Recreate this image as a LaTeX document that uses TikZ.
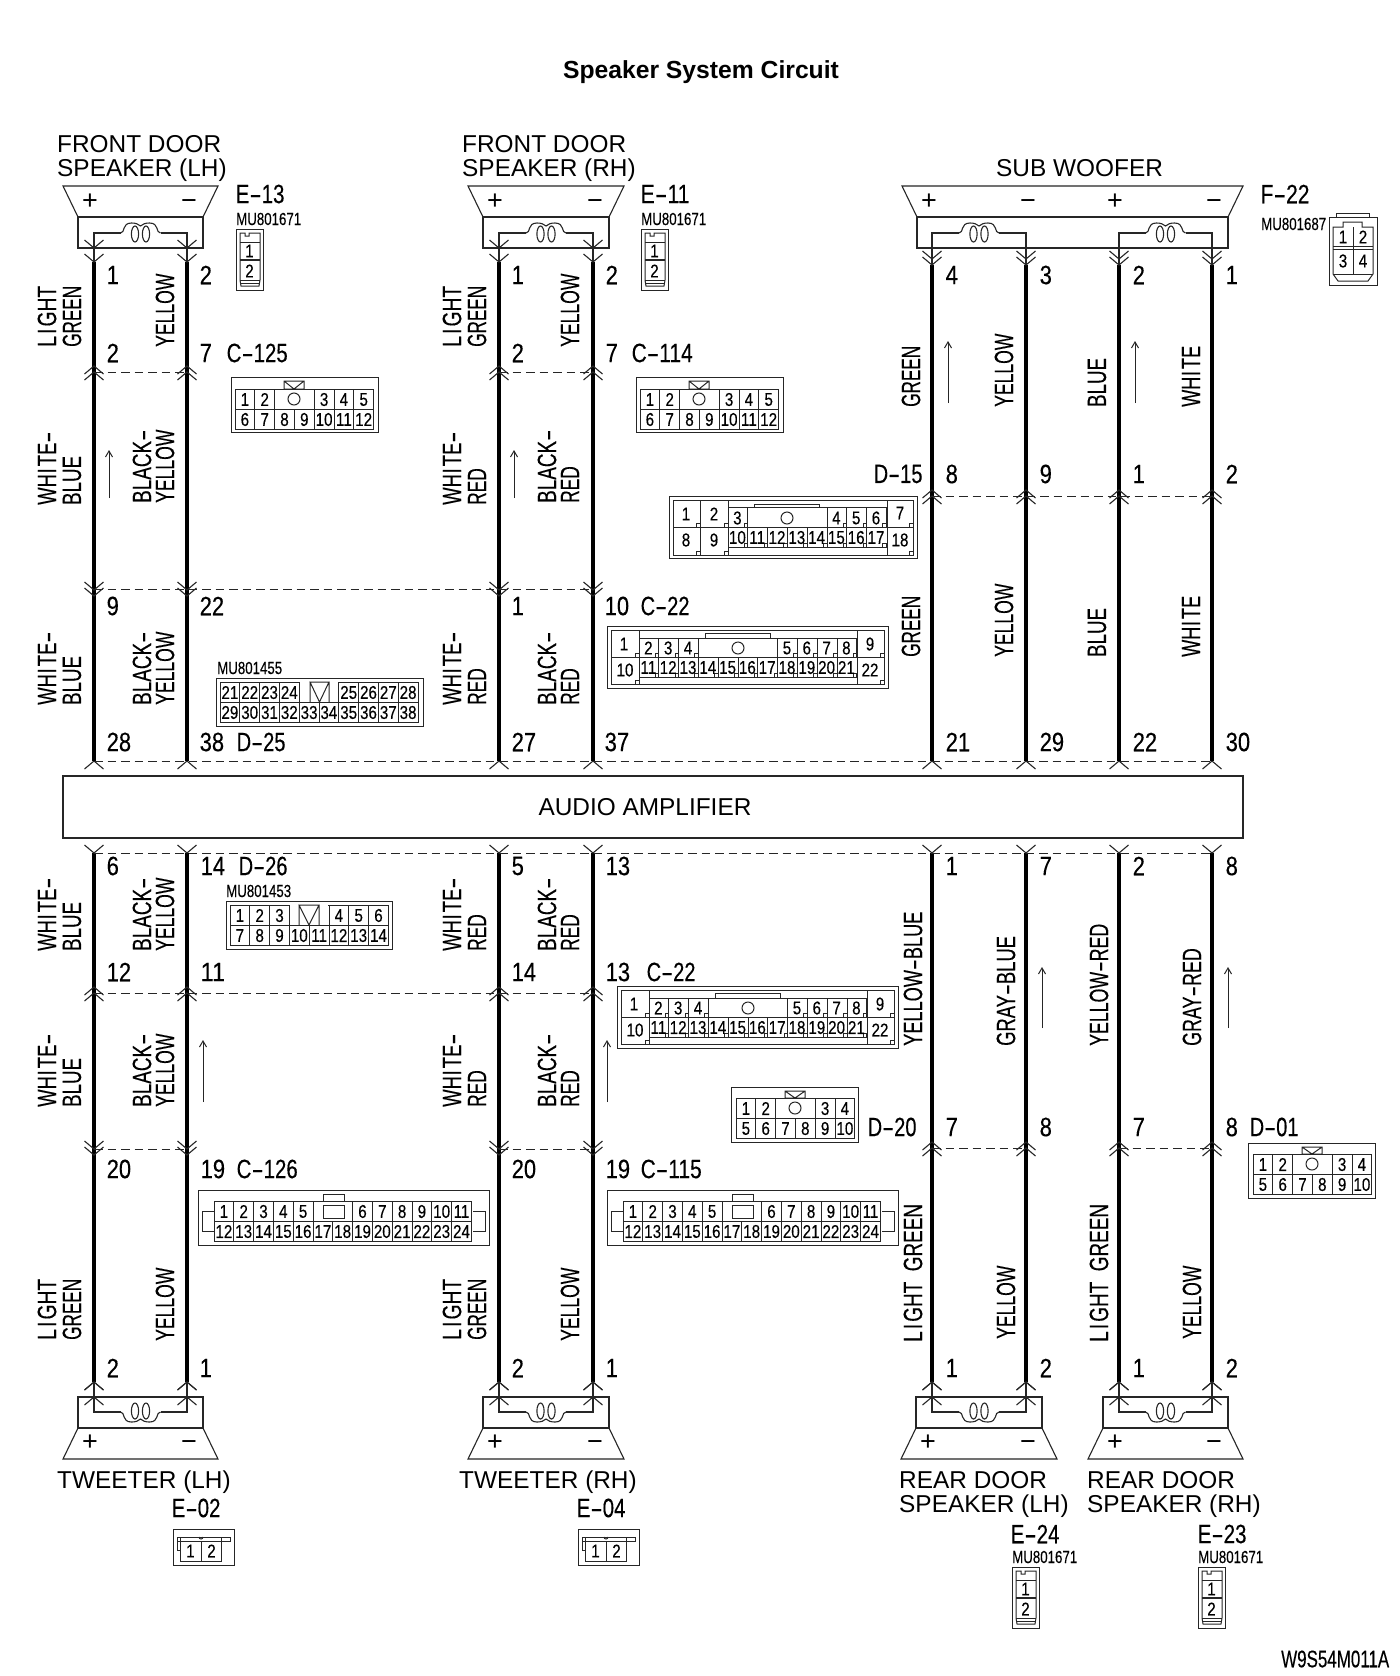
\documentclass[tikz,border=0pt]{standalone}
\usepackage{fontspec}
\usepackage{graphicx}
\setmainfont{Liberation Sans}
\newfontfamily\lf[FakeBold=.3]{Liberation Sans}
\definecolor{ink}{gray}{0.15}
\newcount\nid
\newdimen\cw \cw=12.2pt
\newcommand\nn{\global\advance\nid by 1 }
\newcommand\lab{\fontsize{26.5}{26.5}\lf\selectfont}
\newcommand\hy{\resizebox{.6em}{\height}{-}}
\newcommand\fit[2]{\resizebox{#1\cw}{\height}{\lab #2}}
\newcommand\LI{L\kern3pt I\kern3pt GHT}
\newcommand\WH{WH\kern1pt I\kern3pt TE}
% rotated wire colour label: x centre, y bottom, cells, text
\newcommand\wlab[4]{\nn\node[rotate=90,anchor=west,inner sep=0pt,text=black] (t\the\nid) at (#1,#2) {\fit{#3}{#4}};}
% horizontal pin / connector label: x left, y centre, cells, text
\newcommand\nlab[4]{\nn\node[anchor=west,inner sep=0pt,text=black] (t\the\nid) at (#1-.5,#2-1) {\fit{#3}{#4}};}
% title text: x left, baseline y
\newcommand\tlab[3]{\nn\node[anchor=base west,inner sep=0pt,text=black,font=\fontsize{24.4}{24.4}\selectfont] (t\the\nid) at (#1,#2) {#3};}
% part number
\newcommand\mulab[3]{\nn\node[anchor=west,inner sep=0pt,text=black] (t\the\nid) at (#1,#2) {\resizebox{65pt}{\height}{\fontsize{17.5}{17.5}\lf\selectfont #3}};}
% pin number in a connector
\newcommand\cn[3]{\nn\node[inner sep=0pt,text=black] (t\the\nid) at (#1,#2) {\scalebox{.82}[1]{\fontsize{18.5}{18.5}\lf\selectfont #3}};}
\newcommand\sign[3]{\nn\node[inner sep=0pt,text=black,font=\fontsize{27}{27}\selectfont] (t\the\nid) at (#1,#2) {#3};}
\newcommand\chU[2]{\draw[thin1] (#1-9.5,#2+8)--(#1,#2)--(#1+9.5,#2+8);}
\newcommand\chD[2]{\draw[thin1] (#1-9.5,#2-8)--(#1,#2)--(#1+9.5,#2-8);}
\newcommand\coil[3]{% cx, y, dir
 \begin{scope}[shift={(#1,#2)},yscale=#3]
 \draw[thin1] (-20,0) .. controls (-15,0) and (-19,-10) .. (-9,-10) .. controls (-5,-10) and (-2,-9) .. (0,-7) .. controls (2,-9) and (5,-10) .. (9,-10) .. controls (19,-10) and (15,0) .. (20,0);
 \draw[thin1] (-5.5,1) ellipse (3.6 and 8) (5.5,1) ellipse (3.6 and 8);
 \end{scope}}
\newcommand\spkT[4]{% x1 x2 (wire columns), chevron tips
 \draw[thin1] (#1-31,186)--(#2+31,186)--(#2+16,217)--(#1-16,217)--cycle;
 \draw[thin1] (#1-16,217) rectangle (#2+16,248);
 \draw[thin1] (#1,#4)--(#1,233)--(#2,233)--(#2,#4);
 \fill[white] (#1/2+#2/2-20,226) rectangle (#1/2+#2/2+20,234);
 \coil{#1/2+#2/2}{233}{1}
 \chD{#1}{#3}\chD{#1}{#4}\chD{#2}{#3}\chD{#2}{#4}
 \sign{#1-4}{202}{+}\sign{#2+2}{204.5}{−}}
\newcommand\spkB[2]{%
 \draw[thin1] (#1-31,1459)--(#2+31,1459)--(#2+16,1428)--(#1-16,1428)--cycle;
 \draw[thin1] (#1-16,1397) rectangle (#2+16,1428);
 \draw[thin1] (#1,1382)--(#1,1412)--(#2,1412)--(#2,1382);
 \fill[white] (#1/2+#2/2-20,1411) rectangle (#1/2+#2/2+20,1419);
 \coil{#1/2+#2/2}{1412}{-1}
 \chU{#1}{1382}\chU{#1}{1397}\chU{#2}{1382}\chU{#2}{1397}
 \sign{#1-4}{1443}{+}\sign{#2+2}{1445.5}{−}}
\newcommand\dashrow[4]{\coordinate (#1a) at (#2,#4);\coordinate (#1b) at (#3,#4);\draw[dsh] (#1a)--(#1b);}
\newcommand\twoV[2]{% vertical 2-pin connector
 \begin{scope}[shift={(#1,#2)}]
 \draw[thin2] (0,0) rectangle (27,61);
 \draw[thin2] (4,4)--(4,51)--(5,57)--(23,57)--(24,51)--(24,4)--(13,4)--(13,7)--(9,7)--(9,4)--cycle;
 \draw[thin2] (4,13)--(24,13) (4,51)--(24,51) (5,54)--(23,54);
 \draw[line width=2.6pt,ink] (4,31)--(24,31);
 \cn{13.5}{22}{1}\cn{13.5}{42}{2}
 \end{scope}}
\newcommand\twoH[2]{% horizontal 2-pin connector
 \begin{scope}[shift={(#1,#2)}]
 \draw[thin2] (0,0) rectangle (61,36);
 \draw[thin2] (7,8)--(7,32)--(48,32)--(48,8);
 \draw[thin2] (4,8) rectangle (57,12);
 \draw[thin2] (4,12)--(4,21)--(7,21);
 \draw[thin2] (28,12)--(28,32);
 \draw[thin2] (26,8) arc (180:0:2);
 \cn{17.5}{22}{1}\cn{38.5}{22}{2}
 \end{scope}}
% grid: x y cols, top col/num list, first bottom number
\newcommand\cgrid[5]{%
 \begin{scope}[shift={(#1,#2)}]
 \draw[thin2] (0,0) rectangle (#3*19.8,40);
 \draw[thin2] (0,20)--(#3*19.8,20);
 \pgfmathtruncatemacro\lastc{#3-1}
 \foreach \c in {0,...,\lastc}{
  \draw[thin2] (\c*19.8,20)--(\c*19.8,40);
  \pgfmathtruncatemacro\bn{#5+\c}
  \cn{\c*19.8+9.9}{30.5}{\bn}}
 \foreach \c/\n in {#4}{
  \draw[thin2] (\c*19.8,0)--(\c*19.8,20) (\c*19.8+19.8,0)--(\c*19.8+19.8,20);
  \cn{\c*19.8+9.9}{10.5}{\n}}
 \end{scope}}
\newcommand\keyX[3]{\draw[thin2] (#1-10,#2)--(#1-10,#3)--(#1+10,#3)--(#1+10,#2)--cycle (#1-10,#2)--(#1,#3)--(#1+10,#2);}
\newcommand\psq[2]{\draw[thin2] (#1-3.5,#2-3.5) rectangle (#1,#2);}
\newcommand\cbig[2]{% C-22
 \begin{scope}[shift={(#1,#2)}]
 \draw[thin2] (0,0) rectangle (281,62) (4,4) rectangle (277,58);
 \draw[thin2] (4,31)--(32,31) (250,31)--(277,31);
 \draw[thin2] (32,4)--(32,58) (250,4)--(250,58);
 \draw[thin2] (32,12)--(250,12) (32,31)--(250,31) (32,51)--(250,51);
 \draw[thin2] (98,7) rectangle (163,12);
 \draw[thin2] (131,22) circle (6);
 \foreach \c in {0,...,10}{\draw[thin2] (32+\c*19.8,31)--(32+\c*19.8,51);\psq{32+\c*19.8+19.8}{51}
  \pgfmathtruncatemacro\bn{11+\c}\cn{32+\c*19.8+9.4}{41.5}{\bn}}
 \foreach \c/\n in {0/2,1/3,2/4,7/5,8/6,9/7,10/8}{\draw[thin2] (32+\c*19.8,12)--(32+\c*19.8,31) (51.8+\c*19.8,12)--(51.8+\c*19.8,31);\psq{51.8+\c*19.8}{31}
  \cn{32+\c*19.8+9.4}{22}{\n}}
 \psq{32}{31}\psq{32}{58}\psq{277}{31}\psq{277}{58}
 \cn{17}{18}{1}\cn{18}{44}{10}\cn{263}{18}{9}\cn{263}{44}{22}
 \end{scope}}
\tikzset{thin1/.style={line width=1.1pt,draw=ink},thin2/.style={line width=1pt,draw=ink},
 wirel/.style={line width=4.6pt,draw=black},dsh/.style={line width=1pt,draw=ink,dash pattern=on 8.5pt off 5pt},
 flow/.style={line width=1pt,draw=ink,-{Straight Barb[length=6pt,width=7pt]}}}
\usetikzlibrary{arrows.meta}
\begin{document}
\begin{tikzpicture}[x=1pt,y=-1pt]
\useasboundingbox (0,0) rectangle (1400,1676);
\fill[white] (0,0) rectangle (1400,1676);
% title
\nn\node[inner sep=0pt,font=\fontsize{24.7}{24.7}\selectfont\bfseries] (title) at (701,72) {Speaker System Circuit};
% wires
\foreach \i/\x in {1/94,2/187,3/499,4/593,5/932,6/1026,7/1119,8/1212}{
 \coordinate (low\i t) at (\x,853);\coordinate (low\i b) at (\x,1382);
 \draw[wirel] (low\i t)--(low\i b);
 \chD{\x}{853}\chU{\x}{1382}\chU{\x}{761}}
\foreach \i/\x in {1/94,2/187,3/499,4/593}{
 \coordinate (up\i t) at (\x,262);\coordinate (up\i b) at (\x,761);
 \draw[wirel] (up\i t)--(up\i b);
 \chU{\x}{366}\chU{\x}{372}\chD{\x}{590}\chD{\x}{596}
 \chU{\x}{987}\chU{\x}{993}\chD{\x}{1149}\chD{\x}{1155}}
\foreach \i/\x in {5/932,6/1026,7/1119,8/1212}{
 \coordinate (up\i t) at (\x,265);\coordinate (up\i b) at (\x,761);
 \draw[wirel] (up\i t)--(up\i b);
 \chU{\x}{490}\chU{\x}{496}\chU{\x}{1142}\chU{\x}{1148}}
% dashed connector lines
\dashrow{d1}{94}{187}{372}\dashrow{d2}{499}{593}{372}
\dashrow{d3}{94}{593}{589}\dashrow{d4}{932}{1212}{496}
\dashrow{d5}{94}{1212}{761}\dashrow{d6}{94}{1212}{853}
\dashrow{d7}{94}{593}{993}\dashrow{d8}{94}{187}{1149}\dashrow{d9}{499}{593}{1149}
\dashrow{d10}{932}{1026}{1148}\dashrow{d11}{1119}{1212}{1148}
% amplifier
\nn\node[draw=ink,line width=1.1pt,fill=white,minimum width=1180pt,minimum height=62pt,inner sep=0pt,font=\fontsize{24.4}{24.4}\selectfont] (amp) at (653,807) {\hspace{-16pt}AUDIO AMPLIFIER};
% speakers
\spkT{94}{187}{248}{262}\spkT{499}{593}{248}{262}
\draw[thin1] (902,186)--(1243,186)--(1228,217)--(917,217)--cycle;
\draw[thin1] (917,217) rectangle (1228,248);
\draw[thin1] (932,265)--(932,233)--(1026,233)--(1026,265) (1119,265)--(1119,233)--(1212,233)--(1212,265);
\fill[white] (959,226) rectangle (999,234);\fill[white] (1146,226) rectangle (1186,234);
\coil{979}{233}{1}\coil{1165.5}{233}{1}
\foreach \x in {932,1026,1119,1212}{\chD{\x}{259}\chD{\x}{265}}
\sign{929}{202}{+}\sign{1028}{204.5}{−}\sign{1115}{202}{+}\sign{1214}{204.5}{−}
\spkB{94}{187}\spkB{499}{593}\spkB{932}{1026}\spkB{1119}{1212}
% titles
\tlab{57}{152}{FRONT DOOR}\tlab{57}{176}{SPEAKER (LH)}
\tlab{462}{152}{FRONT DOOR}\tlab{462}{176}{SPEAKER (RH)}
\tlab{996}{176}{SUB WOOFER}
\tlab{57}{1488}{TWEETER (LH)}\tlab{459}{1488}{TWEETER (RH)}
\tlab{899}{1488}{REAR DOOR}\tlab{899}{1512}{SPEAKER (LH)}
\tlab{1087}{1488}{REAR DOOR}\tlab{1087}{1512}{SPEAKER (RH)}
% wire colours
\foreach \dx in {0,405}{
 \wlab{47+\dx}{347}{5}{\LI}\wlab{72+\dx}{347}{5}{GREEN}\wlab{165+\dx}{347}{6}{YELLOW}
 \wlab{47+\dx}{505}{6}{\WH\hy}\wlab{142+\dx}{503}{6}{BLACK\hy}
 \wlab{47+\dx}{705}{6}{\WH\hy}\wlab{142+\dx}{705}{6}{BLACK\hy}
 \wlab{47+\dx}{951}{6}{\WH\hy}\wlab{142+\dx}{951}{6}{BLACK\hy}
 \wlab{47+\dx}{1107}{6}{\WH\hy}\wlab{142+\dx}{1107}{6}{BLACK\hy}
 \wlab{47+\dx}{1340}{5}{\LI}\wlab{72+\dx}{1340}{5}{GREEN}\wlab{165+\dx}{1341}{6}{YELLOW}}
\wlab{72}{505}{4}{BLUE}\wlab{165}{503}{6}{YELLOW}\wlab{477}{505}{3}{RED}\wlab{570}{503}{3}{RED}
\wlab{72}{705}{4}{BLUE}\wlab{165}{705}{6}{YELLOW}\wlab{477}{705}{3}{RED}\wlab{570}{705}{3}{RED}
\wlab{72}{951}{4}{BLUE}\wlab{165}{951}{6}{YELLOW}\wlab{477}{951}{3}{RED}\wlab{570}{951}{3}{RED}
\wlab{72}{1107}{4}{BLUE}\wlab{165}{1107}{6}{YELLOW}\wlab{477}{1107}{3}{RED}\wlab{570}{1107}{3}{RED}
% sub woofer colours
\wlab{911}{407}{5}{GREEN}\wlab{1004}{407}{6}{YELLOW}\wlab{1097}{407}{4}{BLUE}\wlab{1191}{407}{5}{\WH}
\wlab{911}{657}{5}{GREEN}\wlab{1004}{657}{6}{YELLOW}\wlab{1097}{657}{4}{BLUE}\wlab{1191}{657}{5}{\WH}
% rear colours
\wlab{913}{1046}{11}{YELLOW\hy BLUE}\wlab{1006}{1046}{9}{GRAY\hy BLUE}\wlab{1099}{1046}{10}{YELLOW\hy RED}\wlab{1192}{1046}{8}{GRAY\hy RED}
\wlab{913}{1342}{11.3}{\LI\ \ GREEN}\wlab{1006}{1339}{6}{YELLOW}\wlab{1099}{1342}{11.3}{\LI\ \ GREEN}\wlab{1192}{1339}{6}{YELLOW}
% flow arrows
\coordinate (a1s) at (109,498);\coordinate (a1e) at (109,450);\draw[flow] (a1s)--(a1e);
\coordinate (a2s) at (514,498);\coordinate (a2e) at (514,450);\draw[flow] (a2s)--(a2e);
\coordinate (a3s) at (948,403);\coordinate (a3e) at (948,341);\draw[flow] (a3s)--(a3e);
\coordinate (a4s) at (1135,403);\coordinate (a4e) at (1135,341);\draw[flow] (a4s)--(a4e);
\coordinate (a5s) at (203,1102);\coordinate (a5e) at (203,1040);\draw[flow] (a5s)--(a5e);
\coordinate (a6s) at (607,1102);\coordinate (a6e) at (607,1040);\draw[flow] (a6s)--(a6e);
\coordinate (a7s) at (1042,1028);\coordinate (a7e) at (1042,967);\draw[flow] (a7s)--(a7e);
\coordinate (a8s) at (1228,1028);\coordinate (a8e) at (1228,967);\draw[flow] (a8s)--(a8e);
% pin numbers
\nlab{107}{276}{1}{1}\nlab{200}{276}{1}{2}\nlab{512}{276}{1}{1}\nlab{606}{276}{1}{2}
\nlab{107}{354}{1}{2}\nlab{200}{354}{1}{7}\nlab{512}{354}{1}{2}\nlab{606}{354}{1}{7}
\nlab{107}{607}{1}{9}\nlab{200}{607}{2}{22}\nlab{512}{607}{1}{1}\nlab{605}{607}{2}{10}
\nlab{107}{743}{2}{28}\nlab{200}{743}{2}{38}\nlab{512}{743}{2}{27}\nlab{605}{743}{2}{37}
\nlab{946}{743}{2}{21}\nlab{1040}{743}{2}{29}\nlab{1133}{743}{2}{22}\nlab{1226}{743}{2}{30}
\nlab{946}{276}{1}{4}\nlab{1040}{276}{1}{3}\nlab{1133}{276}{1}{2}\nlab{1226}{276}{1}{1}
\nlab{946}{475}{1}{8}\nlab{1040}{475}{1}{9}\nlab{1133}{475}{1}{1}\nlab{1226}{475}{1}{2}
\nlab{107}{867}{1}{6}\nlab{201}{867}{2}{14}\nlab{512}{867}{1}{5}\nlab{606}{867}{2}{13}
\nlab{946}{867}{1}{1}\nlab{1040}{867}{1}{7}\nlab{1133}{867}{1}{2}\nlab{1226}{867}{1}{8}
\nlab{107}{973}{2}{12}\nlab{201}{973}{2}{11}\nlab{512}{973}{2}{14}\nlab{606}{973}{2}{13}
\nlab{107}{1170}{2}{20}\nlab{201}{1170}{2}{19}\nlab{512}{1170}{2}{20}\nlab{606}{1170}{2}{19}
\nlab{946}{1128}{1}{7}\nlab{1040}{1128}{1}{8}\nlab{1133}{1128}{1}{7}\nlab{1226}{1128}{1}{8}
\nlab{107}{1369}{1}{2}\nlab{200}{1369}{1}{1}\nlab{512}{1369}{1}{2}\nlab{606}{1369}{1}{1}
\nlab{946}{1369}{1}{1}\nlab{1040}{1369}{1}{2}\nlab{1133}{1369}{1}{1}\nlab{1226}{1369}{1}{2}
% connector names
\nlab{236}{195}{4}{E\hy 13}\nlab{641}{195}{4}{E\hy 11}\nlab{1261}{195}{4}{F\hy 22}
\nlab{227}{354}{5}{C\hy 125}\nlab{632}{354}{5}{C\hy 114}
\nlab{874}{475}{4}{D\hy 15}\nlab{641}{607}{4}{C\hy 22}\nlab{237}{743}{4}{D\hy 25}
\nlab{239}{867}{4}{D\hy 26}\nlab{647}{973}{4}{C\hy 22}\nlab{237}{1170}{5}{C\hy 126}\nlab{641}{1170}{5}{C\hy 115}
\nlab{868}{1128}{4}{D\hy 20}\nlab{1250}{1128}{4}{D\hy 01}
\nlab{172}{1509}{4}{E\hy 02}\nlab{577}{1509}{4}{E\hy 04}\nlab{1011}{1535}{4}{E\hy 24}\nlab{1198}{1535}{4}{E\hy 23}
\mulab{236}{219}{MU801671}\mulab{641}{219}{MU801671}\mulab{1261}{224}{MU801687}
\mulab{217}{668}{MU801455}\mulab{226}{891}{MU801453}\mulab{1012}{1557}{MU801671}\mulab{1198}{1557}{MU801671}
\nn\node[anchor=west,inner sep=0pt] (code) at (1281,1659) {\resizebox{108pt}{\height}{\fontsize{24}{24}\lf\selectfont W9S54M011A}};
% 2-pin connectors
\twoV{236}{229}\twoV{641}{229}\twoV{1012}{1567}\twoV{1198}{1567}
\twoH{173}{1529}\twoH{578}{1529}
% F-22
\draw[thin2] (1329,217) rectangle (1377,285);
\draw[thin2] (1336,217)--(1336,213)--(1369,213)--(1369,217);
\draw[thin2] (1333,227)--(1333,274)--(1338,281)--(1368,281)--(1373,274)--(1373,227)--(1362,227)--(1362,222)--(1343,222)--(1343,227)--cycle;
\draw[thin2] (1353,227)--(1353,274) (1333,246)--(1373,246) (1333,249)--(1373,249) (1333,274)--(1373,274);
\cn{1343}{237}{1}\cn{1363}{237}{2}\cn{1343}{261}{3}\cn{1363}{261}{4}
% 12-pin C-125, C-114
\foreach \dx/\nm in {0/a,405/b}{
 \draw[thin2] (231+\dx,377) rectangle (378+\dx,432);
 \cgrid{235+\dx}{389}{7}{0/1,1/2,4/3,5/4,6/5}{6}
 \keyX{294+\dx}{381}{389}
 \draw[thin2] (294+\dx,399) circle (6);}
% D-20, D-01
\foreach \x/\y in {731/1087,1248/1143}{
 \draw[thin2] (\x,\y) rectangle (\x+127,\y+55);
 \cgrid{\x+5}{\y+11}{6}{0/1,1/2,4/3,5/4}{5}
 \keyX{\x+64}{\y+4}{\y+11}
 \draw[thin2] (\x+64,\y+21) circle (6);}
% D-25
\draw[thin2] (216,678) rectangle (423,726) (220,682) rectangle (418,722);
\cgrid{220}{682}{10}{0/21,1/22,2/23,3/24,6/25,7/26,8/27,9/28}{29}
\draw[white,line width=1.8pt] (300,682)--(338,682);
\draw[thin2] (310,682)--(329,682)--(319.5,702)--cycle (310,682)--(310,702) (329,682)--(329,702);
% D-26
\draw[thin2] (226,901) rectangle (392,949) (230,905) rectangle (388,945);
\cgrid{230}{905}{8}{0/1,1/2,2/3,5/4,6/5,7/6}{7}
\draw[white,line width=1.8pt] (290,905)--(328,905);
\draw[thin2] (299,905)--(319,905)--(309,925)--cycle (299,905)--(299,925) (319,905)--(319,925);
% C-22 (both)
\cbig{607}{626}\cbig{617}{986}
% D-15
\begin{scope}[shift={(669,496)}]
 \draw[thin2] (0,0) rectangle (248,62) (4,4) rectangle (244,59);
 \draw[thin2] (31,4)--(31,59) (59,4)--(59,59) (218,4)--(218,59);
 \draw[thin2] (4,31)--(59,31) (218,31)--(244,31);
 \draw[thin2] (59,11)--(218,11) (59,31)--(218,31) (59,51)--(218,51);
 \draw[thin2] (85,8) rectangle (150,11);
 \draw[thin2] (118,22) circle (6);
 \foreach \c in {0,...,7}{\draw[thin2] (59+\c*19.8,31)--(59+\c*19.8,51);\psq{78.8+\c*19.8}{51}
  \pgfmathtruncatemacro\bn{10+\c}\cn{59+\c*19.8+9.4}{41.5}{\bn}}
 \foreach \c/\n in {0/3,5/4,6/5,7/6}{\draw[thin2] (59+\c*19.8,11)--(59+\c*19.8,31) (78.8+\c*19.8,11)--(78.8+\c*19.8,31);\psq{78.8+\c*19.8}{31}
  \cn{59+\c*19.8+9.4}{22}{\n}}
 \foreach \x in {31,59,244}{\psq{\x}{31}\psq{\x}{59}}
 \cn{17}{18}{1}\cn{45}{18}{2}\cn{17}{44}{8}\cn{45}{44}{9}\cn{231}{17}{7}\cn{231}{44}{18}
\end{scope}
% C-126, C-115
\foreach \dx in {0,409}{
 \draw[thin2] (198+\dx,1190) rectangle (489+\dx,1245);
 \cgrid{214+\dx}{1201}{13}{0/1,1/2,2/3,3/4,4/5,7/6,8/7,9/8,10/9,11/10,12/11}{12}
 \draw[thin2] (323+\dx,1205) rectangle (344+\dx,1218);
 \draw[thin2] (323+\dx,1201)--(323+\dx,1194)--(344+\dx,1194)--(344+\dx,1201);
 \draw[thin2] (214+\dx,1211)--(202+\dx,1211)--(202+\dx,1231)--(214+\dx,1231);
 \draw[thin2] (473+\dx,1211)--(485+\dx,1211)--(485+\dx,1231)--(473+\dx,1231);}
\end{tikzpicture}
\end{document}
